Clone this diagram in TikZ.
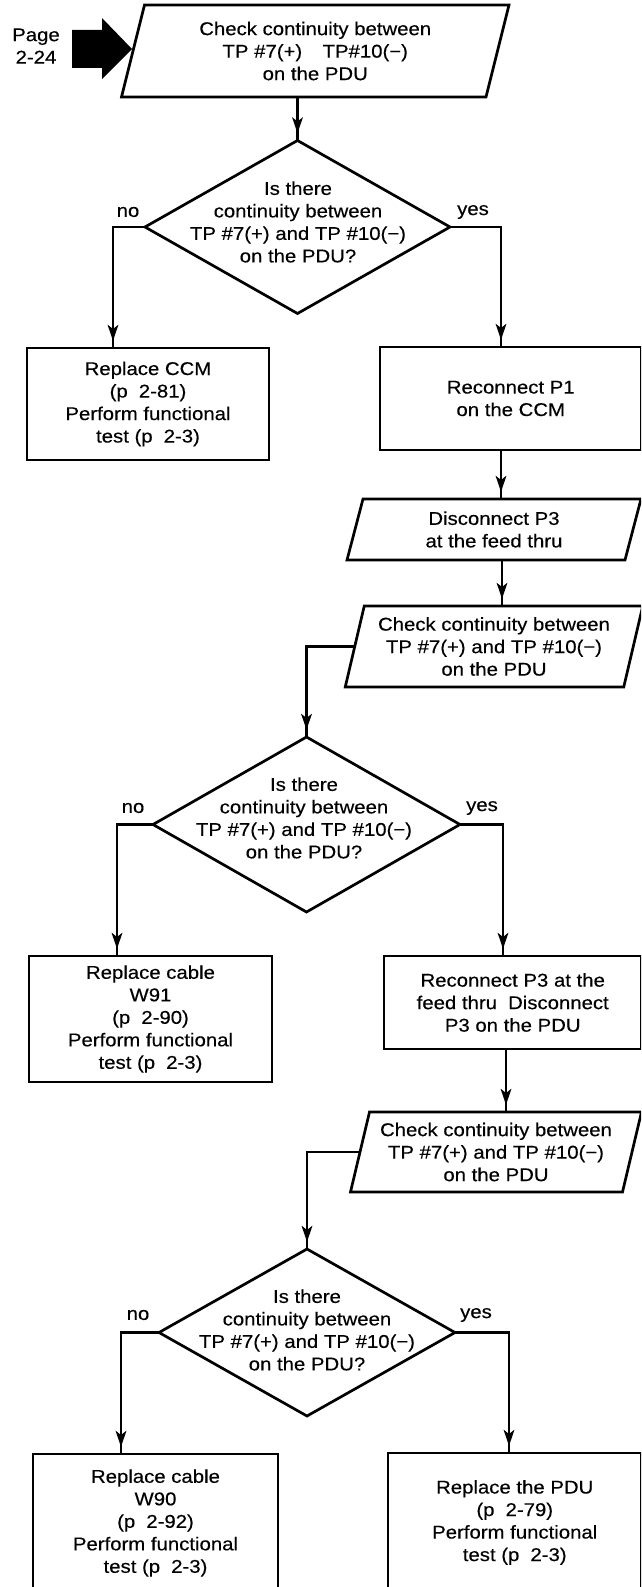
\documentclass[tikz,border=0pt]{standalone}
\usepackage{fontspec}
\setmainfont{Liberation Sans}[FakeStretch=1.1,FakeBold=0.3]
\usetikzlibrary{shapes.geometric,arrows.meta,decorations.markings,calc}
\newcommand\flowfont{\fontsize{18.5}{22.5}\selectfont}
\newcommand\drawpara[2]{\draw[line width=2.7pt, line join=miter]
  ([xshift=-#2]#1.south west) -- ([xshift=-#2]#1.south east) --
  ([xshift=#2]#1.north east) -- ([xshift=#2]#1.north west) -- cycle;}
\begin{document}
\begin{tikzpicture}[x=1pt,y=-1pt,
  box/.style={draw, rectangle, line width=2.7pt, inner sep=0pt, outer sep=0pt, font=\flowfont, align=center},
  pnode/.style={rectangle, inner sep=0pt, outer sep=0pt, font=\flowfont, align=center},
  dia/.style={draw, diamond, line width=2.7pt, inner sep=0pt, outer sep=0pt},
  txt/.style={font=\flowfont, align=center, inner sep=0pt, outer sep=0pt},
  flow/.style={line width=2.7pt, line join=miter, postaction={decorate},
    decoration={markings, mark=at position -7pt with {\arrow{Stealth[length=16pt,width=10.5pt,inset=4pt]}}}}]
\useasboundingbox (0,0) rectangle (641,1587);
\clip (0,0) rectangle (641,1587);

% entry arrow
\node[txt] (page) at (36,46) {Page\\2-24};
\fill (72,30) -- (102,30) -- (102,18) -- (132,49) -- (102,79) -- (102,68) -- (72,68) -- cycle;

% first check
\node[pnode, minimum width=364.5pt, minimum height=92pt] (P1) at (315.25,51)
  {Check continuity between\\TP \#7(+)\hspace{1.1em}TP\#10(−)\\on the PDU};
\drawpara{P1}{11.5pt}

\node[dia, minimum width=305pt, minimum height=173pt] (D1) at (297.5,227) {};
\node[txt] (D1t) at (298,222) {Is there\\continuity between\\TP \#7(+) and TP \#10(−)\\on the PDU?};
\node[txt] (no1) at (128,212) {no};
\node[txt] (yes1) at (473,212) {yes};

\node[box, minimum width=242pt, minimum height=112pt] (B1) at (148,404)
  {Replace CCM\\(p\hspace{0.6em}2-81)\\Perform functional\\test (p\hspace{0.6em}2-3)};
\node[box, minimum width=261.5pt, minimum height=103pt] (B2) at (510.75,398.5)
  {Reconnect P1\\on the CCM};

\node[pnode, minimum width=278pt, minimum height=61pt] (P2) at (494,529.5)
  {Disconnect P3\\at the feed thru};
\drawpara{P2}{8pt}

\node[pnode, minimum width=278.5pt, minimum height=81pt] (P3) at (494,646.5)
  {Check continuity between\\TP \#7(+) and TP \#10(−)\\on the PDU};
\drawpara{P3}{9.5pt}

\node[dia, minimum width=307pt, minimum height=175pt] (D2) at (306.5,824.5) {};
\node[txt] (D2t) at (304,818) {Is there\\continuity between\\TP \#7(+) and TP \#10(−)\\on the PDU?};
\node[txt] (no2) at (133,808) {no};
\node[txt] (yes2) at (482,808) {yes};

\node[box, minimum width=243pt, minimum height=126pt] (B3) at (150.5,1019)
  {Replace cable\\W91\\(p\hspace{0.6em}2-90)\\Perform functional\\test (p\hspace{0.6em}2-3)};
\node[box, minimum width=257.5pt, minimum height=93pt] (B4) at (512.75,1002.5)
  {Reconnect P3 at the\\feed thru\hspace{0.6em}Disconnect\\P3 on the PDU};

\node[pnode, minimum width=272pt, minimum height=80pt] (P4) at (496,1152)
  {Check continuity between\\TP \#7(+) and TP \#10(−)\\on the PDU};
\drawpara{P4}{9.5pt}

\node[dia, minimum width=296pt, minimum height=167pt] (D3) at (307,1332.5) {};
\node[txt] (D3t) at (307,1330) {Is there\\continuity between\\TP \#7(+) and TP \#10(−)\\on the PDU?};
\node[txt] (no3) at (138,1315) {no};
\node[txt] (yes3) at (476,1315) {yes};

\node[box, minimum width=245pt, minimum height=138pt] (B5) at (155.5,1523)
  {Replace cable\\W90\\(p\hspace{0.6em}2-92)\\Perform functional\\test (p\hspace{0.6em}2-3)};
\node[box, minimum width=253.5pt, minimum height=139pt] (B6) at (514.75,1522.5)
  {Replace the PDU\\(p\hspace{0.6em}2-79)\\Perform functional\\test (p\hspace{0.6em}2-3)};

% connectors
\draw[flow] (P1.south -| D1.north) -- (D1.north);
\draw[flow] (D1.west) -| ([xshift=-35pt]B1.north);
\draw[flow] (D1.east) -| ([xshift=-9.75pt]B2.north);
\draw[flow] ([xshift=-9.75pt]B2.south) -- ([xshift=-9.75pt]B2.south |- P2.north);
\draw[flow] ([xshift=8pt]P2.south) -- ([xshift=8pt]P2.south |- P3.north);
\draw[flow] (P3.west) -| (D2.north);
\draw[flow] (D2.west) -| ([xshift=-33.5pt]B3.north);
\draw[flow] (D2.east) -| ([xshift=-9.75pt]B4.north);
\draw[flow] ([xshift=-6.75pt]B4.south) -- ([xshift=-6.75pt]B4.south |- P4.north);
\draw[flow] (P4.west) -| (D3.north);
\draw[flow] (D3.west) -| ([xshift=-34.5pt]B5.north);
\draw[flow] (D3.east) -| ([xshift=-5.75pt]B6.north);
\end{tikzpicture}
\end{document}
